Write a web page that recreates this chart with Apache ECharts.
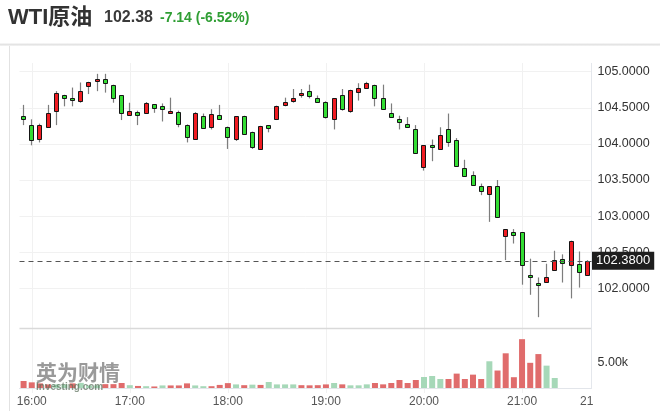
<!DOCTYPE html>
<html>
<head>
<meta charset="utf-8">
<script src="https://cdn.jsdelivr.net/npm/echarts@6/dist/echarts.min.js"></script>
<style>
html,body{margin:0;padding:0;background:#fff;}
#chart{width:660px;height:411px;}
</style>
</head>
<body>
<div id="chart"></div>
<script>
// ---- data (5-minute candles, 15:55 .. 21:40) ----
var categories = ['15:55','16:00','16:05','16:10','16:15','16:20','16:25','16:30','16:35','16:40','16:45','16:50','16:55',
  '17:00','17:05','17:10','17:15','17:20','17:25','17:30','17:35','17:40','17:45','17:50','17:55',
  '18:00','18:05','18:10','18:15','18:20','18:25','18:30','18:35','18:40','18:45','18:50','18:55',
  '19:00','19:05','19:10','19:15','19:20','19:25','19:30','19:35','19:40','19:45','19:50','19:55',
  '20:00','20:05','20:10','20:15','20:20','20:25','20:30','20:35','20:40','20:45','20:50','20:55',
  '21:00','21:05','21:10','21:15','21:20','21:25','21:30','21:35','21:40'];

var opens  = [104.38,104.26,104.07,104.23,104.46,104.67,104.64,104.59,104.80,104.87,104.90,104.82,104.67,
  104.40,104.44,104.43,104.55,104.52,104.43,104.44,104.26,104.07,104.38,104.23,104.40,
  104.23,104.07,104.39,104.17,103.93,104.26,104.34,104.54,104.59,104.67,104.73,104.63,
  104.58,104.34,104.67,104.46,104.72,104.77,104.82,104.64,104.43,104.34,104.28,104.20,
  103.68,103.99,103.93,104.20,104.05,103.67,103.57,103.42,103.31,103.41,102.73,102.78,
  102.78,102.19,102.07,102.09,102.26,102.40,102.32,102.34,102.18];
var closes = [104.34,104.06,104.26,104.43,104.71,104.63,104.61,104.73,104.85,104.90,104.84,104.63,104.43,
  104.45,104.40,104.57,104.49,104.48,104.46,104.28,104.10,104.43,104.22,104.41,104.34,
  104.10,104.38,104.13,103.96,104.25,104.22,104.53,104.58,104.64,104.70,104.66,104.58,
  104.37,104.63,104.48,104.75,104.77,104.84,104.63,104.48,104.37,104.30,104.23,103.88,
  103.98,103.96,104.12,104.03,103.70,103.55,103.43,103.35,103.41,102.99,102.82,102.74,
  102.32,102.15,102.04,102.15,102.39,102.35,102.65,102.23,102.38];
var lows   = [104.26,103.98,104.02,104.22,104.26,104.52,104.52,104.57,104.69,104.73,104.71,104.57,104.33,
  104.40,104.26,104.42,104.43,104.31,104.43,104.23,104.02,104.07,104.21,104.20,104.34,
  103.93,104.04,104.13,103.93,103.92,104.16,104.33,104.52,104.57,104.64,104.63,104.57,
  104.35,104.20,104.46,104.43,104.60,104.76,104.52,104.48,104.36,104.20,104.22,103.86,
  103.63,103.76,103.93,103.96,103.70,103.55,103.42,103.29,102.92,102.99,102.39,102.62,
  102.05,101.91,101.60,102.09,102.24,102.08,101.86,102.01,102.18];
var highs  = [104.54,104.34,104.28,104.54,104.73,104.68,104.78,104.85,104.86,104.97,104.97,104.82,104.67,
  104.57,104.46,104.58,104.55,104.56,104.64,104.46,104.27,104.44,104.42,104.48,104.54,
  104.24,104.38,104.39,104.17,104.25,104.26,104.53,104.64,104.76,104.76,104.82,104.67,
  104.59,104.63,104.76,104.75,104.84,104.86,104.82,104.82,104.56,104.39,104.37,104.26,
  103.98,104.06,104.23,104.42,104.08,103.78,103.62,103.45,103.41,103.50,102.82,102.82,
  102.78,102.41,102.15,102.34,102.52,102.47,102.66,102.51,102.39];

// volume (null = not yet reported); volumeUp: 1 = red bar, 0 = green bar
var volumes = [1360,1100,900,700,700,700,900,1000,500,500,750,750,970,
  550,400,350,300,500,500,500,900,500,350,350,600,
  950,700,550,650,600,1170,700,700,700,550,520,550,
  700,970,710,520,520,710,970,710,970,1560,970,1560,
  2140,2340,1750,1750,2800,1750,2600,1750,5200,3400,6750,2100,
  9500,4900,6600,4350,1950,null,null,null,null];
var volumeUp = [1,1,1,1,0,0,1,0,0,0,1,1,1,
  0,1,0,1,0,1,1,1,0,0,1,1,
  1,0,1,0,1,0,0,0,0,1,1,1,
  1,0,1,0,0,0,1,1,1,1,1,1,
  0,0,0,1,1,1,1,1,0,1,1,1,
  1,1,1,0,0,0,0,0,0];

var lastPrice = 102.38;
var priceTicks = {min: 101.5, max: 105.12, step: 0.5};
var volumeTicks = {min: 0, max: 10000, step: 5000};

var titleName = 'WTI原油';
var titlePrice = '102.38';
var titleChange = '-7.14 (-6.52%)';

// ---- build ----
var RED = '#f01c22', GREEN = '#33dd33';
var VRED = '#e06c6c', VGREEN = '#a6d8b8';
var candleData = categories.map(function (c, i) {
  return [i, opens[i], closes[i], lows[i], highs[i]];
});
var volData = volumes.map(function (v, i) {
  return {value: v, itemStyle: {color: volumeUp[i] ? VRED : VGREEN}};
});
function isHour(idx, val) { return /:00$/.test(val); }

var FONT = "'Liberation Sans', Arial, 'Noto Sans CJK SC', sans-serif";
var chart = echarts.init(document.getElementById('chart'), null, {renderer: 'canvas'});
var GL = 19.5, GW = 572;
var band = GW / categories.length;

chart.setOption({
  animation: false,
  backgroundColor: '#fff',
  textStyle: {fontFamily: FONT},
  grid: [
    {left: GL, width: GW, top: 63, height: 261.4},
    {left: GL, width: GW, top: 336.6, height: 51.4},
    {left: GL + band / 2, width: GW - band, top: 63, height: 330}
  ],
  xAxis: [
    {type: 'category', gridIndex: 0, data: categories, boundaryGap: true,
     axisLine: {show: false}, axisTick: {show: false}, axisLabel: {show: false}, splitLine: {show: false}},
    {type: 'category', gridIndex: 1, data: categories, boundaryGap: true,
     axisLine: {show: true, lineStyle: {color: '#e2e5ea', width: 1}}, axisTick: {show: false},
     axisLabel: {interval: isHour, color: '#555', fontSize: 12, margin: 8, fontFamily: FONT},
     splitLine: {show: false}},
    {type: 'category', gridIndex: 2, data: categories, boundaryGap: false,
     axisLine: {show: false}, axisTick: {show: false}, axisLabel: {show: false},
     splitLine: {show: true, interval: isHour, lineStyle: {color: '#f1f1f1', width: 1}}}
  ],
  yAxis: [
    {type: 'value', gridIndex: 0, position: 'right', min: priceTicks.min, max: priceTicks.max, interval: priceTicks.step,
     axisLine: {show: false}, axisTick: {show: false},
     axisLabel: {color: '#333', fontSize: 12.5, margin: 6, fontFamily: FONT, showMinLabel: false, showMaxLabel: false,
       formatter: function (v) { return v.toFixed(4); }},
     splitLine: {show: true, showMinLine: false, showMaxLine: false, lineStyle: {color: '#f1f1f1', width: 1}}},
    {type: 'value', gridIndex: 1, position: 'right', min: volumeTicks.min, max: volumeTicks.max, interval: volumeTicks.step,
     axisLine: {show: false}, axisTick: {show: false}, splitLine: {show: false},
     axisLabel: {color: '#333', fontSize: 12.5, margin: 6, fontFamily: FONT,
       formatter: function (v) { return v === 5000 ? (v / 1000).toFixed(2) + 'k' : ''; }}},
    {type: 'value', gridIndex: 2, show: false, min: 0, max: 1}
  ],
  series: [
    {
      type: 'custom', xAxisIndex: 0, yAxisIndex: 0, data: candleData,
      encode: {x: 0, y: [1, 2, 3, 4]},
      z: 3,
      renderItem: function (params, api) {
        var i = api.value(0);
        var o = api.value(1), c = api.value(2), l = api.value(3), h = api.value(4);
        var pO = api.coord([i, o]), pC = api.coord([i, c]);
        var pL = api.coord([i, l]), pH = api.coord([i, h]);
        var cx = Math.floor(pO[0]);
        var top = Math.round(Math.min(pO[1], pC[1])) + 0.5;
        var bot = Math.round(Math.max(pO[1], pC[1])) + 0.5;
        if (bot - top < 2) bot = top + 2;
        var up = c >= o;
        return {
          type: 'group',
          children: [
            {type: 'line', shape: {x1: cx + 0.5, y1: pH[1], x2: cx + 0.5, y2: pL[1]},
             style: {stroke: '#7d7d7d', lineWidth: 1.2}},
            {type: 'rect', shape: {x: cx - 1.5, y: top, width: 4, height: bot - top},
             style: {fill: up ? RED : GREEN, stroke: '#151515', lineWidth: 1}}
          ]
        };
      }
    },
    {
      type: 'line', xAxisIndex: 0, yAxisIndex: 0, data: [], symbol: 'none', z: 4,
      markLine: {
        silent: true, symbol: ['none', 'none'],
        lineStyle: {color: '#555', type: [5, 4], width: 1},
        label: {position: 'end', distance: 0.5, color: '#fff', backgroundColor: '#1e1e1e',
          padding: [3, 4, 2, 4], fontSize: 13, fontFamily: FONT,
          formatter: function (p) { return p.value.toFixed(4); }},
        data: [{yAxis: lastPrice}]
      }
    },
    {
      type: 'bar', xAxisIndex: 1, yAxisIndex: 1, data: volData, barWidth: 6
    }
  ],
  graphic: [
    {type: 'rect', left: 0, top: 43, z: 1, shape: {width: 660, height: 3},
     style: {fill: new echarts.graphic.LinearGradient(0, 0, 0, 1, [{offset: 0, color: '#fafafa'}, {offset: 0.5, color: '#e4e4e4'}, {offset: 1, color: '#f4f4f4'}])}},
    {type: 'line', z: 1, shape: {x1: 9.5, y1: 46, x2: 9.5, y2: 411}, style: {stroke: '#e2e2e2', lineWidth: 1}},
    {type: 'line', z: 1, shape: {x1: 19.5, y1: 328.5, x2: 591.5, y2: 328.5}, style: {stroke: '#d9d9d9', lineWidth: 1.5}},
    {type: 'line', z: 1, shape: {x1: 591.5, y1: 63, x2: 591.5, y2: 388}, style: {stroke: '#e4e7ec', lineWidth: 1}},
    {type: 'text', z: 5, x: 8, y: 18, style: {text: titleName, fill: '#333', font: 'bold 22px ' + FONT, textVerticalAlign: 'middle'}},
    {type: 'text', z: 5, x: 104, y: 18, style: {text: titlePrice, fill: '#3a3a3a', font: 'bold 16px ' + FONT, textVerticalAlign: 'middle'}},
    {type: 'text', z: 5, x: 160, y: 18, style: {text: titleChange, fill: '#2f9e34', font: 'bold 14px ' + FONT, textVerticalAlign: 'middle'}},
    {type: 'text', z: 6, x: 36, y: 372, style: {text: '英为财情', fill: 'rgba(120,120,120,0.75)', font: 'bold 21px "Noto Sans CJK SC", sans-serif', textVerticalAlign: 'middle'}},
    {type: 'text', z: 6, x: 36, y: 387, style: {text: 'Investing.com', fill: 'rgba(90,110,90,0.7)', font: 'bold 10px ' + FONT, textVerticalAlign: 'middle'}},
    {type: 'text', z: 5, x: 580, y: 402, style: {text: '21', fill: '#555', font: '12px ' + FONT, textVerticalAlign: 'middle'}}
  ]
});
</script>
</body>
</html>
